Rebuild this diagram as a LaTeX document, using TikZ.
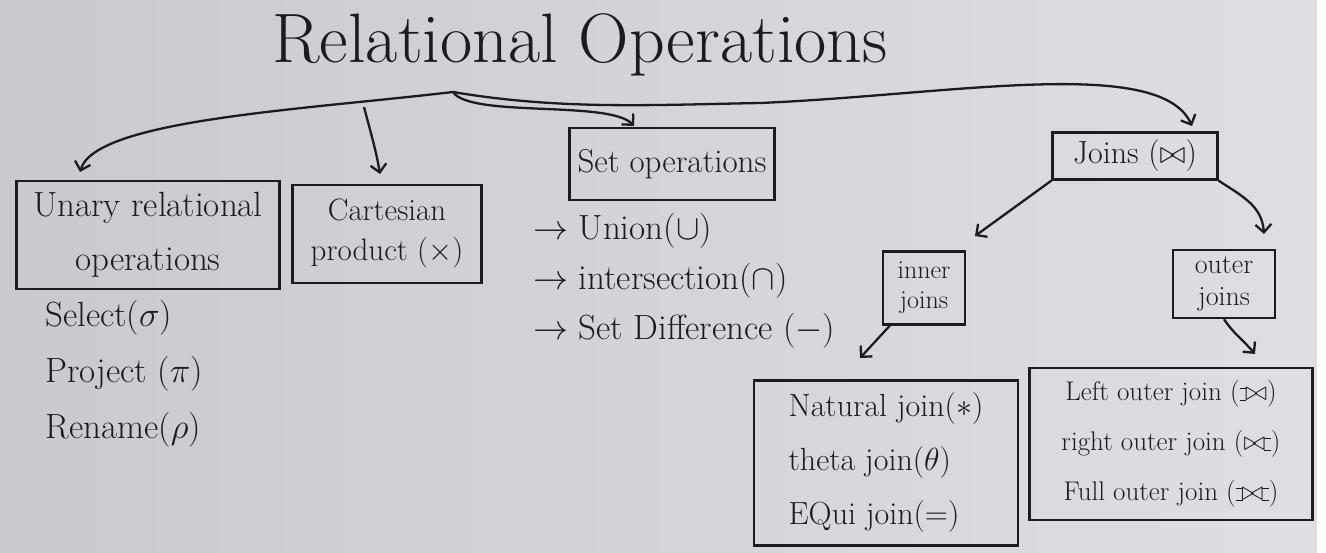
\documentclass[tikz,border=0pt]{standalone}
\usepackage{fix-cm}
\usepackage{fontspec}
\usetikzlibrary{arrows.meta,calc}
\definecolor{ink}{RGB}{28,27,30}
\definecolor{boardL}{RGB}{203,201,205}
\definecolor{boardR}{RGB}{224,222,226}
\newcommand{\myojoin}{\setbox0=\hbox{$\bowtie$}\rule[-.02ex]{.25em}{.045em}\llap{\rule[\dimexpr\ht0-.045em\relax]{.25em}{.045em}}}
\newcommand{\myleftoj}{\mathbin{\myojoin\mkern-5.8mu\bowtie}}
\newcommand{\myrightoj}{\mathbin{\bowtie\mkern-5.8mu\myojoin}}
\newcommand{\myfulloj}{\mathbin{\myojoin\mkern-5.8mu\bowtie\mkern-5.8mu\myojoin}}
\begin{document}
\begin{tikzpicture}[x=1pt,y=-1pt,
  box/.style={draw=ink,line width=2.3pt,inner sep=0pt,align=center,text=ink},
  lbl/.style={text=ink,inner sep=0pt,align=left},
  arr/.style={draw=ink,line width=2.3pt,-{Straight Barb[length=8pt,width=16pt,line width=2.3pt]}},
  plain/.style={draw=ink,line width=2.3pt}]
\useasboundingbox (0,0) rectangle (1326,552);
\shade[left color=boardL,right color=boardR] (0,0) rectangle (1317,552);
\fill[white!96!boardR] (1317,0) rectangle (1326,552);
% title
\node[text=ink,inner sep=0pt,font=\fontsize{70}{76}\selectfont] (title) at (580,45) {Relational Operations};
% boxes
\node[box,minimum width=263,minimum height=108,font=\fontsize{35}{54}\selectfont] (unary) at (148,235) {Unary relational\\operations};
\node[box,minimum width=189,minimum height=98,font=\fontsize{31}{40}\selectfont] (cart) at (387,234) {Cartesian\\product ($\times$)};
\node[box,minimum width=205,minimum height=72,font=\fontsize{33}{36}\selectfont] (setop) at (672,164) {Set operations};
\node[box,minimum width=165,minimum height=47,font=\fontsize{32}{36}\selectfont] (joins) at (1135,156) {Joins ($\bowtie$)};
\node[box,minimum width=82,minimum height=73,font=\fontsize{26}{30}\selectfont] (inner) at (924,288) {inner\\joins};
\node[box,minimum width=102,minimum height=68,font=\fontsize{28}{32}\selectfont] (outer) at (1224,284) {outer\\joins};
\node[box,minimum width=264,minimum height=165,font=\fontsize{32}{54}\selectfont,align=left] (natural) at (886,463) {Natural join($*$)\\theta join($\theta$)\\EQui join($=$)};
\node[box,minimum width=283,minimum height=152,font=\fontsize{27}{50}\selectfont] (outerlist) at (1171,444) {Left outer join ($\myleftoj$)\\right outer join ($\myrightoj$)\\Full outer join ($\myfulloj$)};
% lists
\node[lbl,anchor=north west,font=\fontsize{35}{56}\selectfont] (unarylist) at (45,300) {Select($\sigma$)\\Project ($\pi$)\\Rename($\rho$)};
\node[lbl,anchor=north west,font=\fontsize{35}{50}\selectfont] (setlist) at (533,213) {$\rightarrow$ Union($\cup$)\\$\rightarrow$ intersection($\cap$)\\$\rightarrow$ Set Difference ($-$)};
% connector coordinates
\coordinate (root) at (453,92);
\coordinate (ua) at (80,172);
\coordinate (cbr) at (364,107);
\coordinate (ca) at (380,174);
\coordinate (sa) at (634,126);
\coordinate (ja) at (1192,126);
\coordinate (ia) at (975,236);
\coordinate (oa) at (1264,234);
\coordinate (na) at (860,358);
\coordinate (ola) at (1255,354);
\coordinate (jm) at (760,103);
% connectors
\draw[arr] (root) .. controls (300,110) and (95,120) .. (ua);
\draw[arr] (cbr) .. controls (370,130) and (376,150) .. (ca);
\draw[arr] (root) .. controls (470,118) and (610,100) .. (sa);
\draw[plain] (root) .. controls (560,110) and (650,105) .. (jm);
\draw[arr] (jm) .. controls (950,95) and (1160,55) .. (ja);
\draw[arr] (joins.south west) -- (ia);
\draw[arr] (joins.south east) .. controls (1240,195) and (1262,205) .. (oa);
\draw[arr] ([xshift=8pt]inner.south west) -- (na);
\draw[arr] (outer.south) .. controls (1232,332) and (1245,342) .. (ola);
\end{tikzpicture}
\end{document}
